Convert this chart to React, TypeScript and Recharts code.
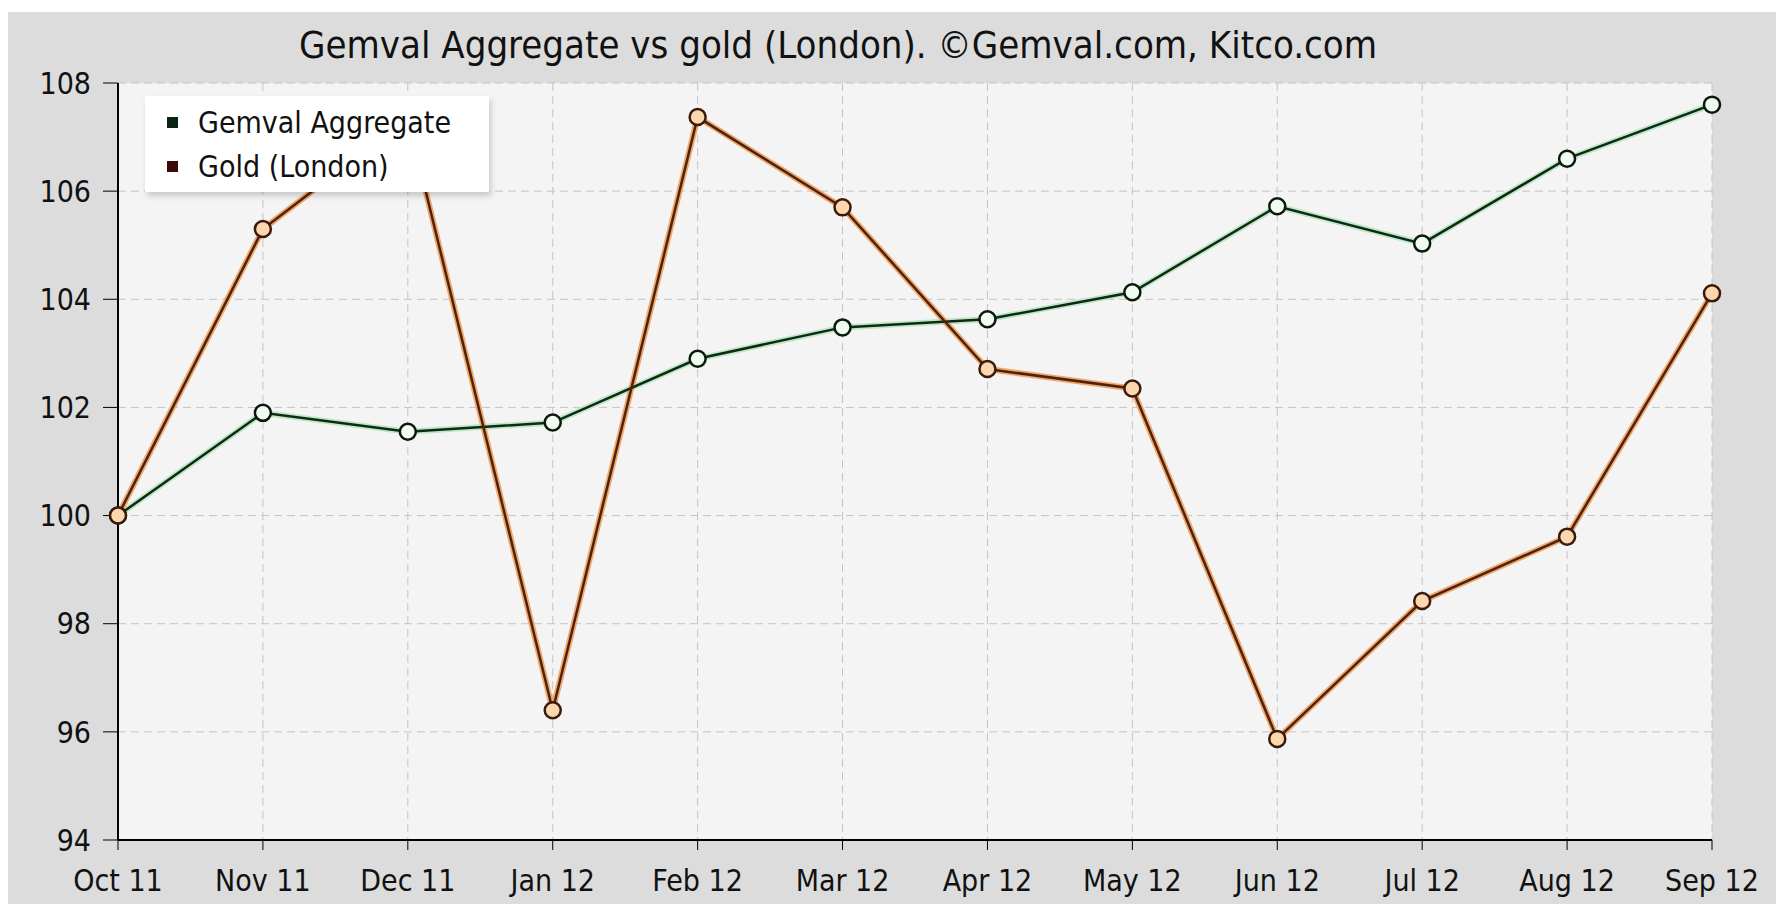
import { LineChart, Line, XAxis, YAxis, CartesianGrid } from 'recharts';

const months = ['Oct 11', 'Nov 11', 'Dec 11', 'Jan 12', 'Feb 12', 'Mar 12', 'Apr 12', 'May 12', 'Jun 12', 'Jul 12', 'Aug 12', 'Sep 12'];
const gemval = [100, 101.9, 101.55, 101.72, 102.9, 103.48, 103.63, 104.13, 105.72, 105.03, 106.6, 107.6];
const gold = [100, 105.3, 107.35, 96.4, 107.37, 105.7, 102.71, 102.35, 95.87, 98.42, 99.61, 104.11];
const yTicks = [94, 96, 98, 100, 102, 104, 106, 108];

const data = months.map((m, i) => ({ month: m, gemval: gemval[i], gold: gold[i] }));

const FONT = '"DejaVu Sans Condensed", "DejaVu Sans", sans-serif';

const legendItems = [
  { label: 'Gemval Aggregate', color: '#0a2414' },
  { label: 'Gold (London)', color: '#3a0a0a' },
];

function LegendBox() {
  return (
    <div
      style={{
        position: 'absolute',
        left: 145,
        top: 96,
        width: 344,
        height: 96,
        background: '#ffffff',
        boxShadow: '2px 4px 6px rgba(0,0,0,0.18)',
        fontFamily: FONT,
        fontSize: 30,
        color: '#111',
        boxSizing: 'border-box',
        paddingTop: 4,
      }}
    >
      {legendItems.map((it) => (
        <div key={it.label} style={{ display: 'flex', alignItems: 'center', height: 44 }}>
          <span style={{ display: 'inline-block', width: 11, height: 11, background: it.color, marginLeft: 22, marginRight: 20 }} />
          <span>{it.label}</span>
        </div>
      ))}
    </div>
  );
}

export default function App() {
  return (
    <div style={{ position: 'absolute', left: 0, top: 0, width: 1776, height: 904, background: '#fff', overflow: 'hidden' }}>
      <div style={{ position: 'absolute', left: 8, top: 12, right: 0, bottom: 0, background: '#dcdcdc' }} />
      <div
        style={{
          position: 'absolute',
          left: 138,
          width: 1400,
          top: 22,
          textAlign: 'center',
          fontFamily: FONT,
          fontSize: 38,
          color: '#111',
          lineHeight: '46px',
        }}
      >
        Gemval Aggregate vs gold (London). ©Gemval.com, Kitco.com
      </div>
      <div style={{ position: 'absolute', left: 0, top: 0 }}>
        <LineChart width={1776} height={904} data={data} margin={{ top: 83, right: 64, bottom: 0, left: 58 }}>
          <CartesianGrid fill="#f4f4f4" stroke="#c4c4c4" strokeDasharray="8 5" />
          <XAxis
            dataKey="month"
            height={64}
            axisLine={{ stroke: '#000', strokeWidth: 2 }}
            tickLine={{ stroke: '#000' }}
            tickSize={10}
            tickMargin={20}
            tick={{ fill: '#111', fontSize: 30, fontFamily: FONT }}
            interval={0}
          />
          <YAxis
            domain={[94, 108]}
            ticks={yTicks}
            width={60}
            axisLine={{ stroke: '#000', strokeWidth: 2 }}
            tickLine={{ stroke: '#000' }}
            tickSize={15}
            tickMargin={12}
            tick={{ fill: '#111', fontSize: 30, fontFamily: FONT }}
          />
          <Line dataKey="gemval" stroke="#bfe6c6" strokeWidth={6} dot={false} activeDot={false} legendType="none" isAnimationActive={false} />
          <Line dataKey="gold" stroke="#f2a66a" strokeWidth={6} dot={false} activeDot={false} legendType="none" isAnimationActive={false} />
          <Line
            dataKey="gemval"
            name="Gemval Aggregate"
            stroke="#0d2a14"
            strokeWidth={2.5}
            dot={{ r: 8, fill: '#f2fbf2', stroke: '#0a1a0a', strokeWidth: 2.5 }}
            isAnimationActive={false}
          />
          <Line
            dataKey="gold"
            name="Gold (London)"
            stroke="#4a2410"
            strokeWidth={2.5}
            dot={{ r: 8, fill: '#fcd6ae', stroke: '#3a1a0a', strokeWidth: 2.5 }}
            isAnimationActive={false}
          />
        </LineChart>
      </div>
      <LegendBox />
    </div>
  );
}
